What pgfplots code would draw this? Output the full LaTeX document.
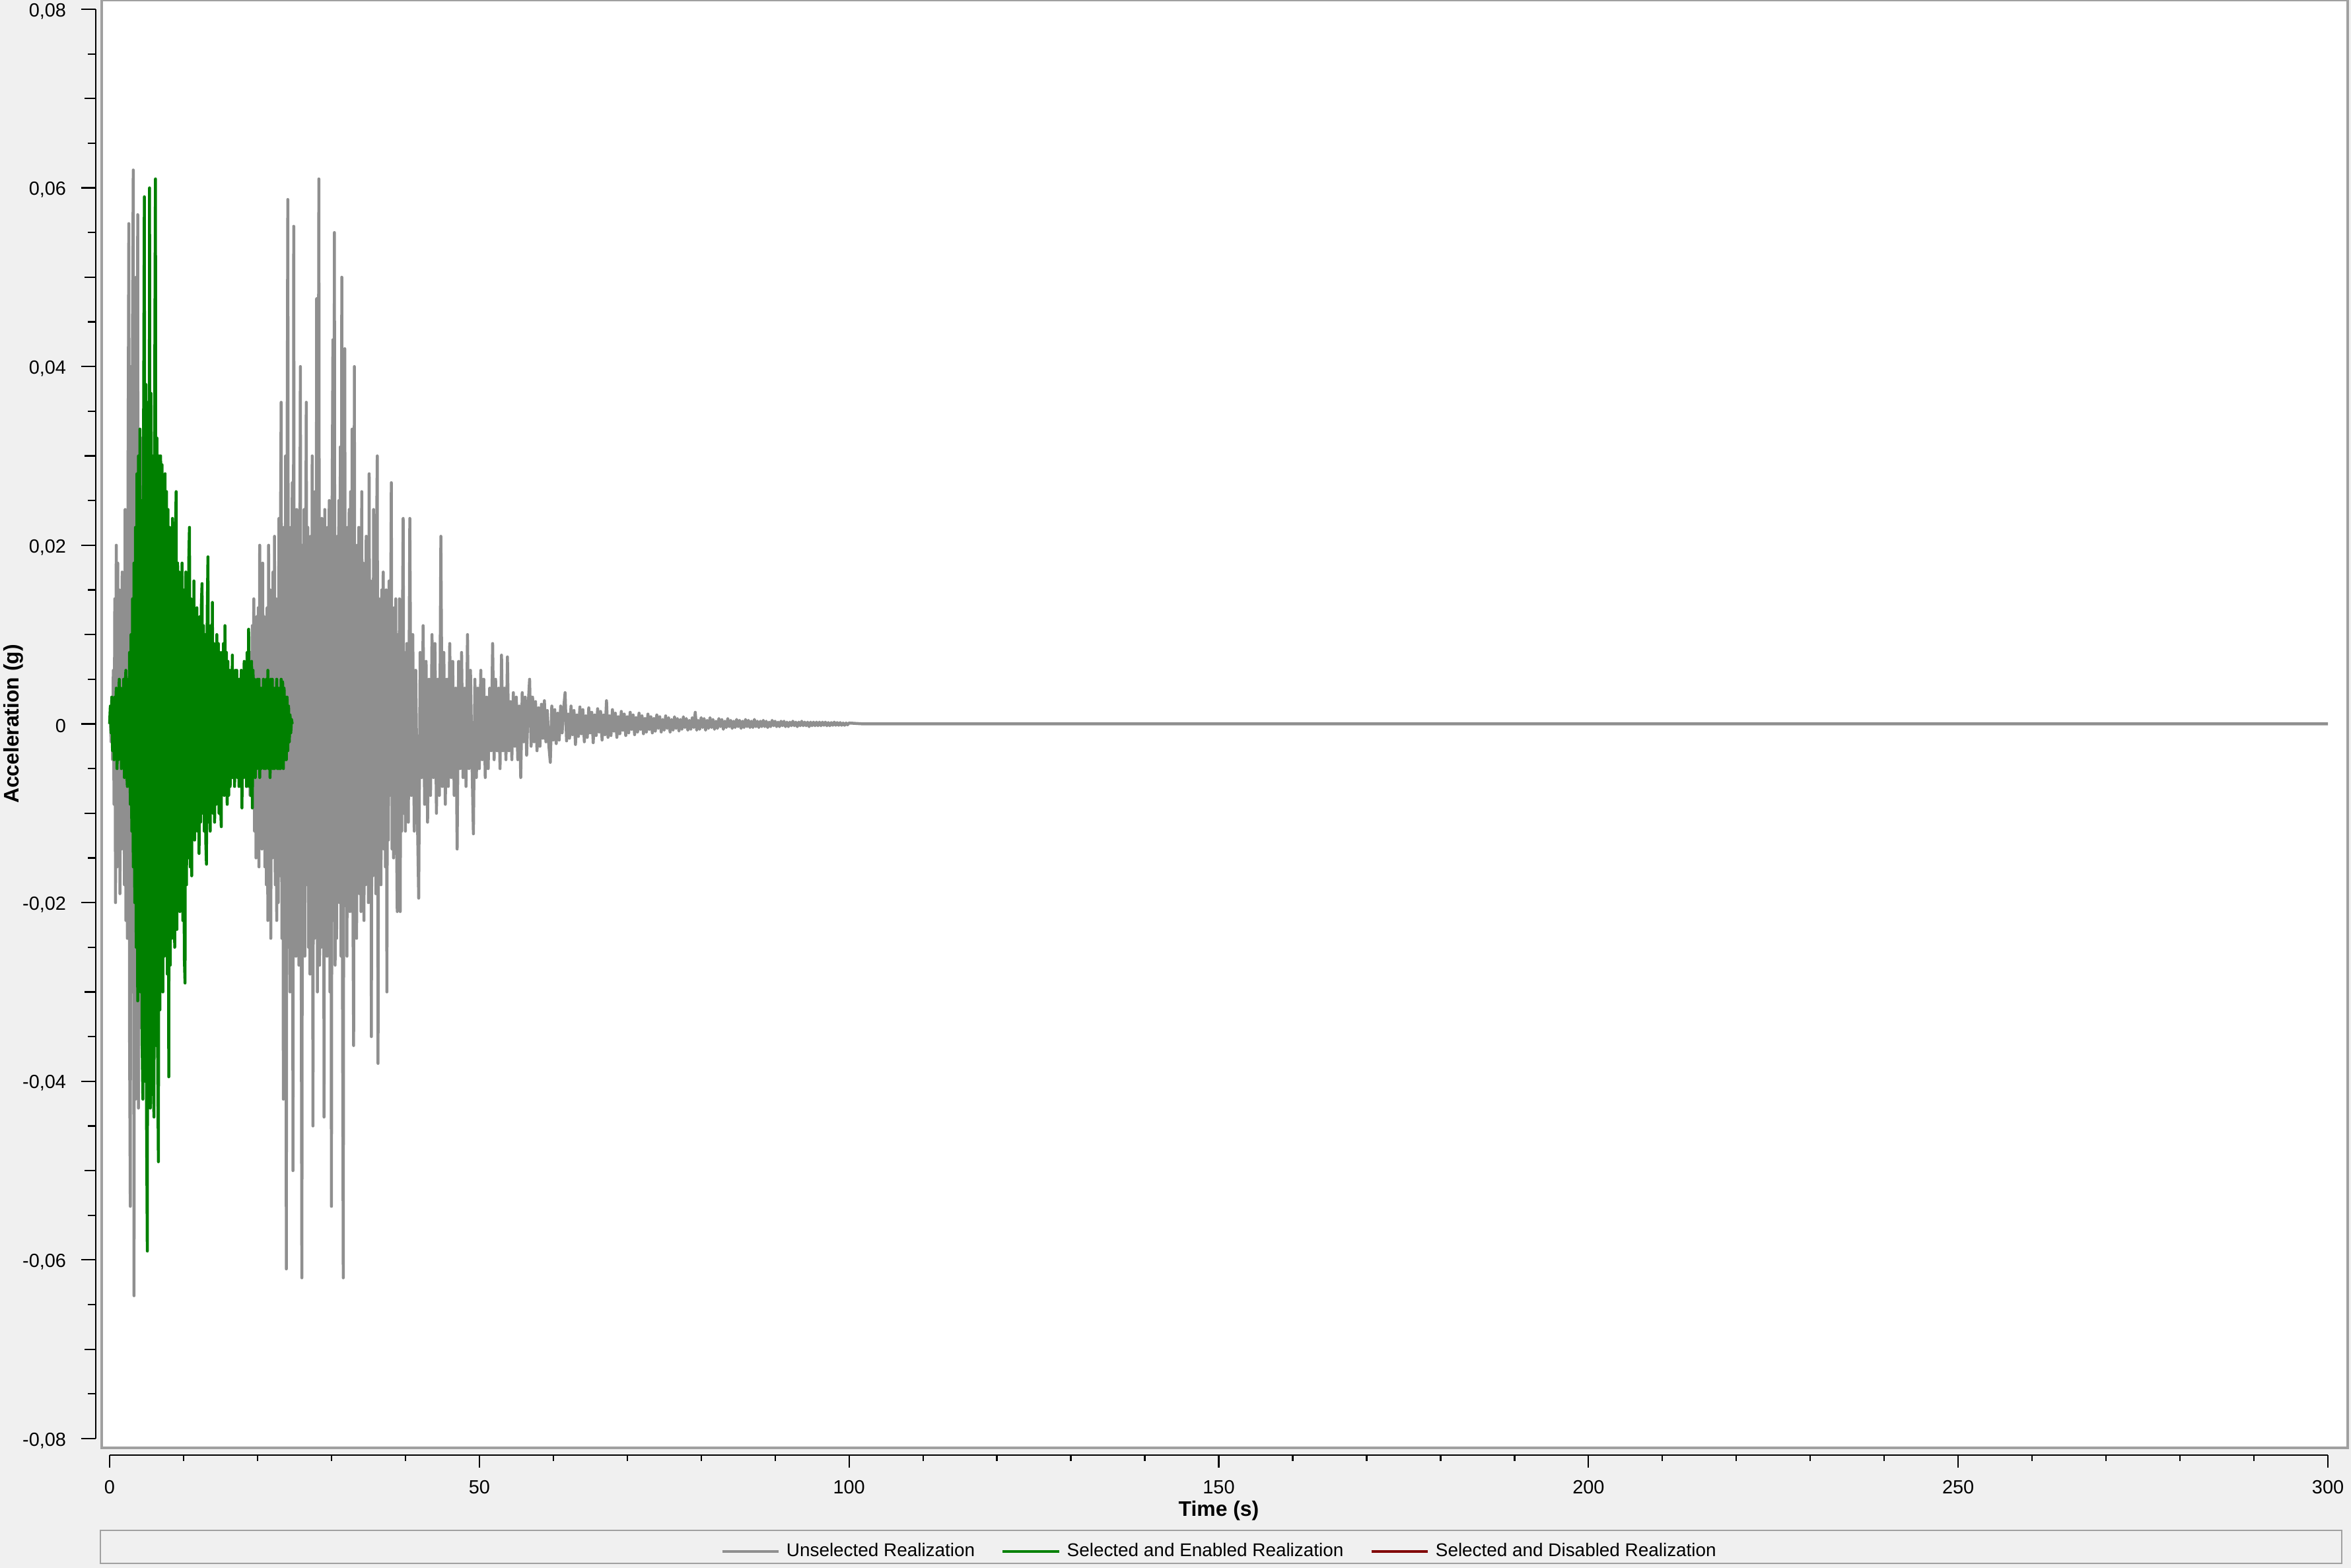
\documentclass[border=0pt]{standalone}
\usepackage{fontspec}
\setmainfont{Liberation Sans}
\usepackage{pgfplots}
\pgfplotsset{compat=1.18}
\definecolor{bgc}{HTML}{F0F0F0}
\definecolor{ugray}{HTML}{8F8F8F}
\definecolor{sgreen}{HTML}{008000}
\definecolor{dred}{HTML}{800000}
\definecolor{framec}{HTML}{A0A0A0}
\begin{document}
\fontsize{5.8}{7}\selectfont
\begin{tikzpicture}
\useasboundingbox (0,0) rectangle (712bp,475bp);
\fill[bgc] (0,0) rectangle (712bp,475bp);
\draw[framec, line width=0.5bp] (30.4bp,1.4bp) rectangle (709.2bp,11.4bp);
% ---------------- data canvas ----------------
\begin{axis}[at={(30.8bp,36.4bp)}, anchor=south west, scale only axis,
  width=680.2bp, height=438.6bp,
  xmin=-1.07, xmax=302.68, ymin=-0.08103, ymax=0.08103,
  axis background/.style={fill=white},
  axis line style={draw=framec, line width=0.7bp},
  ticks=none, clip=true,
  legend columns=3,
  legend style={at={(0.4987,-0.0716)}, anchor=center, draw=none, fill=none,
    font=\fontsize{5.6}{6.5}\selectfont,
    /tikz/every even column/.append style={column sep=6bp}},
  legend cell align=left]
\addplot[ugray, line width=0.9bp, line join=round] coordinates {
(0.0,0)(0.1,0.001)(0.2,-0.002)(0.3,0.003)(0.4,-0.004)(0.5,0.006)(0.6,-0.009)(0.7,0.014)(0.8,-0.020)(0.9,0.020)
(1.0,-0.016)(1.1,0.018)(1.2,-0.012)(1.3,0.015)(1.4,-0.019)(1.5,0.011)(1.6,-0.014)(1.7,0.017)(1.8,-0.010)(1.9,0.013)
(2.0,-0.018)(2.1,0.024)(2.2,-0.022)(2.3,0.019)(2.4,-0.024)(2.5,0.030)(2.6,0.056)(2.7,-0.035)(2.8,-0.054)(2.9,0.040)
(3.0,-0.030)(3.1,0.045)(3.2,0.062)(3.3,-0.064)(3.4,0.038)(3.5,-0.042)(3.6,0.050)(3.7,-0.036)(3.8,0.057)(3.9,-0.043)
(4.0,0.030)(4.2,-0.034)(4.4,0.032)(4.6,-0.038)(4.8,0.028)(5.0,-0.030)(5.2,0.026)(5.4,-0.028)(5.6,0.027)(5.8,-0.025)
(6.0,0.024)(6.2,-0.026)(6.4,0.022)(6.6,-0.024)(6.8,0.020)(7.0,-0.022)(7.2,0.019)(7.4,-0.020)(7.6,0.018)(7.8,-0.019)
(8.0,0.017)(8.2,-0.018)(8.4,0.015)(8.6,-0.017)(8.8,0.014)(9.0,-0.016)(9.2,0.013)(9.4,-0.015)(9.6,0.014)(9.8,-0.013)
(10.0,0.012)(10.2,-0.014)(10.4,0.011)(10.6,-0.012)(10.8,0.012)(11.0,-0.011)(11.2,0.010)(11.4,-0.011)(11.6,0.010)(11.8,-0.009)
(12.0,0.009)(12.2,-0.010)(12.4,0.009)(12.6,-0.009)(12.8,0.008)(13.0,-0.009)(13.2,0.009)(13.4,-0.008)(13.6,0.008)(13.8,-0.008)
(14.0,0.007)(14.2,-0.008)(14.4,0.007)(14.6,-0.007)(14.8,0.007)(15.0,-0.007)(15.2,0.006)(15.4,-0.007)(15.6,0.006)(15.8,-0.006)
(16.0,0.006)(16.2,-0.006)(16.4,0.005)(16.6,-0.006)(16.8,0.005)(17.0,-0.005)(17.2,0.005)(17.4,-0.005)(17.6,0.005)(17.8,-0.005)
(18.0,0.005)(18.2,-0.006)(18.4,0.006)(18.6,-0.007)(18.8,0.007)(19.0,-0.008)
(19.1,0.008)(19.2,-0.006)(19.3,0.011)(19.4,-0.009)(19.5,0.014)(19.6,-0.012)(19.7,0.007)(19.8,-0.015)(19.9,0.012)
(20.0,-0.010)(20.1,0.013)(20.2,-0.016)(20.3,0.020)(20.4,-0.009)(20.5,0.011)(20.6,-0.014)(20.7,0.018)(20.8,-0.008)(20.9,0.012)
(21.0,-0.016)(21.1,0.010)(21.2,-0.018)(21.3,0.013)(21.4,-0.022)(21.5,0.020)(21.6,-0.009)(21.7,0.015)(21.8,-0.024)(21.9,0.011)
(22.0,-0.015)(22.1,0.017)(22.2,-0.012)(22.3,0.021)(22.4,-0.018)(22.5,0.014)(22.6,-0.022)(22.7,0.012)(22.8,-0.020)(22.9,0.023)
(23.0,-0.017)(23.1,0.021)(23.2,0.036)(23.3,-0.024)(23.4,0.015)(23.5,-0.042)(23.6,0.022)(23.7,-0.019)(23.8,0.030)(23.9,-0.061)
(24.0,0.028)(24.1,0.0587)(24.2,-0.025)(24.3,0.018)(24.4,-0.030)(24.5,0.022)(24.6,-0.016)(24.7,0.027)(24.8,-0.050)(24.9,0.0557)
(25.0,-0.022)(25.1,0.015)(25.2,-0.026)(25.3,0.024)(25.4,-0.014)(25.5,0.020)(25.6,-0.027)(25.7,0.012)(25.8,0.040)(25.9,-0.021)
(26.0,-0.062)(26.1,0.020)(26.2,-0.015)(26.3,0.024)(26.4,-0.026)(26.5,0.013)(26.6,0.036)(26.7,-0.018)(26.8,0.022)(26.9,-0.025)
(27.0,0.017)(27.1,-0.028)(27.2,0.021)(27.3,-0.013)(27.4,0.030)(27.5,-0.045)(27.6,0.019)(27.7,-0.024)(27.8,0.026)(27.9,-0.016)
(28.0,0.0476)(28.1,-0.030)(28.2,0.020)(28.3,0.061)(28.4,-0.027)(28.5,0.016)(28.6,-0.025)(28.7,0.023)(28.8,-0.014)(28.9,0.021)
(29.0,-0.044)(29.1,0.024)(29.2,-0.018)(29.3,0.013)(29.4,-0.026)(29.5,0.022)(29.6,-0.012)(29.7,0.025)(29.8,-0.030)(29.9,0.017)
(30.0,-0.054)(30.1,0.026)(30.2,0.043)(30.3,-0.022)(30.4,0.055)(30.5,-0.027)(30.6,0.015)(30.7,-0.024)(30.8,0.021)(30.9,-0.014)
(31.0,0.025)(31.1,-0.020)(31.2,0.031)(31.3,-0.026)(31.4,0.050)(31.5,-0.030)(31.6,-0.062)(31.7,0.022)(31.8,0.042)(31.9,-0.020)
(32.0,0.015)(32.1,-0.026)(32.2,0.022)(32.3,-0.013)(32.4,0.024)(32.5,-0.021)(32.6,0.026)(32.7,-0.012)(32.8,0.033)(32.9,-0.019)
(33.0,-0.036)(33.1,0.040)(33.2,-0.022)(33.3,0.014)(33.4,-0.024)(33.5,0.020)(33.6,-0.011)(33.7,0.022)(33.8,-0.019)(33.9,0.012)
(34.0,-0.021)(34.1,0.026)(34.2,-0.015)(34.3,0.018)(34.4,-0.022)(34.5,0.011)(34.6,-0.018)(34.7,0.021)(34.8,-0.010)(34.9,0.017)
(35.0,-0.020)(35.1,0.028)(35.2,-0.013)(35.3,0.016)(35.4,-0.035)(35.5,0.012)(35.6,-0.017)(35.7,0.024)(35.8,-0.011)(35.9,0.015)
(36.0,-0.019)(36.1,0.021)(36.2,0.030)(36.3,-0.038)(36.4,0.014)(36.5,-0.016)(36.6,0.010)(36.7,-0.018)(36.8,0.015)(36.9,-0.009)
(37.0,0.017)(37.1,-0.014)(37.2,0.009)(37.3,-0.016)(37.4,0.015)(37.5,-0.030)(37.6,0.011)(37.7,-0.013)(37.8,0.016)(37.9,-0.008)
(38.0,0.012)(38.1,0.027)(38.2,-0.014)(38.3,0.009)(38.4,-0.015)(38.5,0.013)(38.6,-0.008)(38.7,0.014)(38.8,-0.012)(38.9,-0.021)
(39.0,0.010)(39.1,-0.013)(39.2,0.014)(39.3,-0.021)(39.4,0.008)(39.5,-0.012)(39.6,0.011)(39.7,0.023)(39.8,-0.010)(39.9,0.007)
(40.0,-0.012)(40.2,0.009)(40.4,-0.011)(40.6,0.023)(40.8,-0.008)(41.0,0.010)(41.2,-0.012)(41.4,0.006)(41.6,-0.009)(41.8,-0.0195)
(42.0,0.008)(42.2,-0.006)(42.4,0.011)(42.6,-0.009)(42.8,0.007)(43.0,-0.011)(43.2,0.005)(43.4,-0.008)(43.6,0.010)(43.8,-0.006)
(44.0,0.009)(44.2,-0.010)(44.4,0.005)(44.6,-0.008)(44.8,0.021)(45.0,-0.007)(45.2,0.008)(45.4,-0.009)(45.6,0.005)(45.8,-0.007)
(46.0,0.009)(46.2,-0.006)(46.4,0.007)(46.6,-0.008)(46.8,0.004)(47.0,-0.014)(47.2,0.007)(47.4,-0.005)(47.6,0.008)(47.8,-0.006)
(48.0,0.004)(48.2,-0.007)(48.4,0.010)(48.6,-0.005)(48.8,0.006)(49.0,-0.004)(49.2,-0.0123)(49.4,0.005)(49.6,-0.006)(49.8,0.004)
(50.0,-0.005)(50.2,0.006)(50.4,-0.004)(50.6,0.005)(50.8,-0.006)(51.0,0.003)(51.2,-0.005)(51.4,0.004)(51.6,-0.003)(51.8,0.009)
(52.0,-0.004)(52.2,0.005)(52.4,-0.003)(52.6,0.004)(52.8,-0.005)(53.0,0.0077)(53.2,-0.003)(53.4,0.004)(53.6,-0.004)(53.8,0.0075)
(54.0,-0.003)(54.2,0.0025)(54.4,-0.004)(54.6,0.0035)(54.8,-0.0025)(55.0,0.003)(55.2,-0.004)(55.4,0.002)(55.6,-0.006)(55.8,0.0035)
(56.0,-0.002)(56.2,0.003)(56.4,-0.0035)(56.6,0.002)(56.8,0.005)(57.0,-0.0025)(57.2,0.003)(57.4,-0.002)(57.6,0.0025)(57.8,-0.003)
(58.0,0.0018)(58.2,-0.0025)(58.4,0.0022)(58.6,-0.0016)(58.8,0.0026)(59.0,-0.002)(59.2,0.0015)(59.4,-0.0024)(59.6,-0.0043)(59.8,0.002)
(60.0,-0.0018)(60.2,0.0016)(60.4,-0.0022)(60.6,0.0012)(60.8,-0.0018)(61.0,0.0020)(61.2,-0.0010)(61.4,0.0017)(61.6,0.0035)(61.8,-0.0019)
(62.0,0.0011)(62.2,-0.0016)(62.4,0.0020)(62.6,-0.0012)(62.8,0.0015)(63.0,-0.0023)(63.2,0.0010)(63.4,-0.0014)(63.6,0.0019)(63.8,-0.0011)
(64.0,0.0016)(64.2,-0.0020)(64.4,0.0009)(64.6,-0.0015)(64.8,0.0018)(65.0,-0.0010)(65.2,0.0013)(65.4,-0.0021)(65.6,0.0010)(65.8,-0.0013)
(66.0,0.0017)(66.2,-0.0009)(66.4,0.0014)(66.6,-0.0018)(66.8,0.0010)(67.0,-0.0012)(67.2,0.0026)(67.4,-0.0015)(67.6,0.0009)(67.8,-0.0013)
(68.0,0.0016)(68.2,-0.0008)(68.4,0.0012)(68.6,-0.0015)(68.8,0.0008)(69.0,-0.0011)(69.2,0.0014)(69.4,-0.0007)(69.6,0.0011)(69.8,-0.0013)
(70.0,0.0008)(70.2,-0.0010)(70.4,0.0013)(70.6,-0.0006)(70.8,0.0010)(71.0,-0.0012)(71.2,0.0007)(71.4,-0.0009)(71.6,0.0012)(71.8,-0.0006)
(72.0,0.0009)(72.2,-0.0011)(72.4,0.0006)(72.6,-0.0009)(72.8,0.0011)(73.0,-0.0006)(73.2,0.0008)(73.4,-0.0010)(73.6,0.0006)(73.8,-0.0008)
(74.0,0.0010)(74.2,-0.0005)(74.4,0.0008)(74.6,-0.0009)(74.8,0.0005)(75.0,-0.0007)(75.2,0.0009)(75.4,-0.0005)(75.6,0.0007)(75.8,-0.0009)
(76.0,0.0005)(76.2,-0.0007)(76.4,0.0008)(76.6,-0.0005)(76.8,0.0006)(77.0,-0.0008)(77.2,0.0005)(77.4,-0.0006)(77.6,0.0008)(77.8,-0.0004)
(78.0,0.0006)(78.2,-0.0007)(78.4,0.0004)(78.6,-0.0006)(78.8,0.0007)(79.0,-0.0004)(79.2,0.0013)(79.4,-0.0007)(79.6,0.0004)(79.8,-0.0006)
(80.0,0.0007)(80.2,-0.0004)(80.4,0.0006)(80.6,-0.0007)(80.8,0.0004)(81.0,-0.0005)(81.2,0.0007)(81.4,-0.0004)(81.6,0.0005)(81.8,-0.0006)
(82.0,0.0003)(82.2,-0.0005)(82.4,0.0006)(82.6,-0.0003)(82.8,0.0005)(83.0,-0.0006)(83.2,0.0003)(83.4,-0.0004)(83.6,0.0006)(83.8,-0.0003)
(84.0,0.0004)(84.2,-0.0005)(84.4,0.0003)(84.6,-0.0004)(84.8,0.0005)(85.0,-0.0003)(85.2,0.0004)(85.4,-0.0005)(85.6,0.0003)(85.8,-0.0004)
(86.0,0.0005)(86.2,-0.0003)(86.4,0.0004)(86.6,-0.0004)(86.8,0.0003)(87.0,-0.0004)(87.2,0.0005)(87.4,-0.0003)(87.6,0.0003)(87.8,-0.0004)
(88.0,0.0003)(88.2,-0.0003)(88.4,0.0004)(88.6,-0.0003)(88.8,0.0003)(89.0,-0.0004)(89.2,0.0002)(89.4,-0.0003)(89.6,0.0004)(89.8,-0.0002)
(90.0,0.0003)(90.2,-0.0003)(90.4,0.0002)(90.6,-0.0003)(90.8,0.0003)(91.0,-0.0002)(91.2,0.0003)(91.4,-0.0003)(91.6,0.0002)(91.8,-0.0003)
(92.0,0.0002)(92.2,-0.0002)(92.4,0.0003)(92.6,-0.0002)(92.8,0.0002)(93.0,-0.0003)(93.2,0.0002)(93.4,-0.0002)(93.6,0.0003)(93.8,-0.0002)
(94.0,0.0002)(94.2,-0.0002)(94.4,0.0002)(94.6,-0.0003)(94.8,0.0002)(95.0,-0.0002)(95.2,0.0002)(95.4,-0.0002)(95.6,0.0002)(95.8,-0.0002)
(96.0,0.0002)(96.2,-0.0002)(96.4,0.0002)(96.6,-0.00015)(96.8,0.0002)(97.0,-0.0002)(97.2,0.00015)(97.4,-0.0002)(97.6,0.00015)(97.8,-0.00015)
(98.0,0.0002)(98.2,-0.00015)(98.4,0.00015)(98.6,-0.00015)(98.8,0.00015)(99.0,-0.00015)(99.2,0.0001)(99.4,-0.00015)(99.6,0.0001)(99.8,-0.0001)
(100.0,0.0001)(102,0)(300,0)
};
\addlegendentry{Unselected Realization}
\addplot[sgreen, line width=0.9bp, line join=round] coordinates {
(0.0,0)(0.1,0.002)(0.2,-0.001)(0.3,0.003)(0.4,-0.003)(0.5,0.002)(0.6,-0.004)(0.7,0.003)(0.8,-0.002)(0.9,0.004)
(1.0,-0.005)(1.1,0.003)(1.2,-0.004)(1.3,0.005)(1.4,-0.003)(1.5,0.004)(1.6,-0.005)(1.7,0.003)(1.8,-0.004)(1.9,0.005)
(2.0,-0.006)(2.1,0.004)(2.2,0.006)(2.3,-0.005)(2.4,-0.007)(2.5,0.005)(2.6,-0.006)(2.7,0.008)(2.8,-0.009)(2.9,0.010)
(3.0,-0.012)(3.1,0.014)(3.2,-0.016)(3.3,0.018)(3.4,-0.020)(3.5,0.022)(3.6,-0.025)(3.7,0.028)(3.8,-0.031)(3.9,0.030)
(4.0,-0.028)(4.1,0.033)(4.2,-0.030)(4.3,0.025)(4.4,-0.036)(4.5,-0.042)(4.6,0.035)(4.7,0.059)(4.8,-0.040)(4.9,0.038)
(5.0,-0.045)(5.1,-0.059)(5.2,0.036)(5.3,-0.038)(5.4,0.060)(5.5,-0.043)(5.6,0.037)(5.7,-0.035)(5.8,0.030)(5.9,-0.040)
(6.0,-0.044)(6.1,0.038)(6.2,0.061)(6.3,-0.036)(6.4,0.032)(6.5,-0.038)(6.6,-0.049)(6.7,0.030)(6.8,-0.032)(6.9,0.030)
(7.0,-0.028)(7.1,0.029)(7.2,-0.030)(7.3,0.027)(7.4,-0.026)(7.5,0.028)(7.6,-0.025)(7.7,0.026)(7.8,-0.028)(7.9,0.024)
(8.0,-0.0395)(8.1,0.022)(8.2,-0.027)(8.3,0.020)(8.4,-0.024)(8.5,0.023)(8.6,-0.022)(8.7,0.019)(8.8,-0.025)(8.9,0.021)
(9.0,0.026)(9.1,-0.023)(9.2,0.018)(9.3,-0.020)(9.4,0.017)(9.5,-0.021)(9.6,0.016)(9.7,-0.019)(9.8,0.018)(9.9,-0.022)
(10.0,0.015)(10.1,-0.026)(10.2,-0.029)(10.3,0.017)(10.4,-0.018)(10.5,0.016)(10.6,-0.015)(10.7,0.018)(10.8,0.022)(10.9,-0.016)
(11.0,0.014)(11.1,-0.017)(11.2,0.013)(11.3,-0.012)(11.4,0.016)(11.5,-0.013)(11.6,0.012)(11.7,-0.011)(11.8,0.013)(11.9,-0.012)
(12.0,0.011)(12.1,-0.0145)(12.2,0.012)(12.3,-0.011)(12.4,0.013)(12.5,0.0157)(12.6,-0.010)(12.7,0.011)(12.8,-0.012)(12.9,0.010)
(13.0,-0.013)(13.1,-0.0157)(13.2,0.012)(13.3,0.0187)(13.4,-0.011)(13.5,0.010)(13.6,-0.012)(13.7,0.011)(13.8,-0.009)(13.9,0.0136)
(14.0,-0.010)(14.1,0.009)(14.2,-0.011)(14.3,0.008)(14.4,-0.009)(14.5,0.010)(14.6,-0.008)(14.7,0.009)(14.8,-0.010)(14.9,0.008)
(15.0,-0.009)(15.1,-0.0115)(15.2,0.008)(15.3,-0.007)(15.4,0.009)(15.5,-0.008)(15.6,0.011)(15.7,-0.007)(15.8,0.008)(15.9,-0.009)
(16.0,0.007)(16.1,-0.008)(16.2,0.006)(16.3,-0.007)(16.4,0.006)(16.5,-0.006)(16.6,0.0077)(16.7,-0.006)(16.8,0.005)(16.9,-0.007)
(17.0,0.006)(17.1,-0.005)(17.2,0.006)(17.3,-0.006)(17.4,0.005)(17.5,-0.007)(17.6,0.005)(17.7,-0.006)(17.8,0.006)(17.9,-0.0094)
(18.0,0.005)(18.1,-0.006)(18.2,0.007)(18.3,-0.005)(18.4,0.006)(18.5,-0.007)(18.6,0.008)(18.7,-0.006)(18.8,0.0106)(18.9,-0.007)
(19.0,0.006)(19.1,-0.008)(19.2,0.007)(19.3,-0.0094)(19.4,0.006)(19.5,-0.005)(19.6,0.005)(19.7,-0.006)(19.8,0.004)(19.9,-0.005)
(20.0,0.005)(20.1,-0.004)(20.2,0.005)(20.3,-0.006)(20.4,0.004)(20.5,-0.005)(20.6,0.004)(20.7,-0.004)(20.8,0.005)(20.9,-0.005)
(21.0,0.004)(21.1,-0.005)(21.2,0.005)(21.3,-0.004)(21.4,0.006)(21.5,-0.005)(21.6,0.004)(21.7,-0.006)(21.8,0.005)(21.9,-0.004)
(22.0,0.005)(22.1,-0.005)(22.2,0.004)(22.3,-0.005)(22.4,0.004)(22.5,-0.004)(22.6,0.005)(22.7,-0.005)(22.8,0.004)(22.9,-0.005)
(23.0,0.004)(23.1,-0.005)(23.2,0.005)(23.3,-0.004)(23.4,0.0047)(23.5,-0.005)(23.6,0.004)(23.7,-0.004)(23.8,0.003)(23.9,-0.004)
(24.0,0.003)(24.1,-0.003)(24.2,0.002)(24.3,-0.002)(24.4,0.001)(24.5,-0.001)(24.6,0.0005)(24.7,0)
};
\addlegendentry{Selected and Enabled Realization}
\addlegendimage{dred, line width=0.9bp}
\addlegendentry{Selected and Disabled Realization}
\end{axis}
% ---------------- detached y axis ----------------
\begin{axis}[at={(29bp,39.2bp)}, anchor=south west, scale only axis,
  width=1bp, height=433bp,
  xmin=0, xmax=1, ymin=-0.08, ymax=0.08,
  axis y line*=left, axis x line=none,
  axis line style={black, line width=0.45bp},
  xtick=\empty,
  ytick={-0.08,-0.06,-0.04,-0.02,0,0.02,0.04,0.06,0.08},
  yticklabels={{-0,08},{-0,06},{-0,04},{-0,02},{0},{0,02},{0,04},{0,06},{0,08}},
  minor y tick num=3,
  extra y ticks={-0.07,-0.05,-0.03,-0.01,0.01,0.03,0.05,0.07},
  extra y tick labels={},
  extra y tick style={major tick length=3.4bp},
  tick align=outside, major tick length=4.4bp, minor tick length=2.4bp,
  tick style={black, line width=0.45bp},
  yticklabel style={anchor=east, inner sep=0pt, xshift=-4.4bp, yshift=-0.6bp, font=\fontsize{5.8}{7}\selectfont},
  ylabel={\bfseries Acceleration (g)},
  ylabel style={at={(rel axis cs:0,0.5)}, anchor=center, yshift=25bp,
    font=\fontsize{6.4}{7.5}\selectfont}]
\end{axis}
% ---------------- detached x axis ----------------
\begin{axis}[at={(33.2bp,34.2bp)}, anchor=south west, scale only axis,
  width=671.8bp, height=1bp,
  xmin=0, xmax=300, ymin=0, ymax=1,
  axis x line*=bottom, axis y line=none,
  axis line style={black, line width=0.45bp},
  ytick=\empty,
  xtick={0,50,100,150,200,250,300},
  xticklabels={0,50,100,150,200,250,300},
  minor x tick num=4,
  tick align=outside, major tick length=3.8bp, minor tick length=1.8bp,
  tick style={black, line width=0.45bp},
  xticklabel style={anchor=north, inner sep=0pt, yshift=-3.6bp, font=\fontsize{5.8}{7}\selectfont},
  xlabel={\bfseries Time (s)},
  xlabel style={at={(rel axis cs:0.5,0)}, anchor=center, yshift=-16.9bp,
    font=\fontsize{6.4}{7.5}\selectfont}]
\end{axis}
\end{tikzpicture}
\end{document}
